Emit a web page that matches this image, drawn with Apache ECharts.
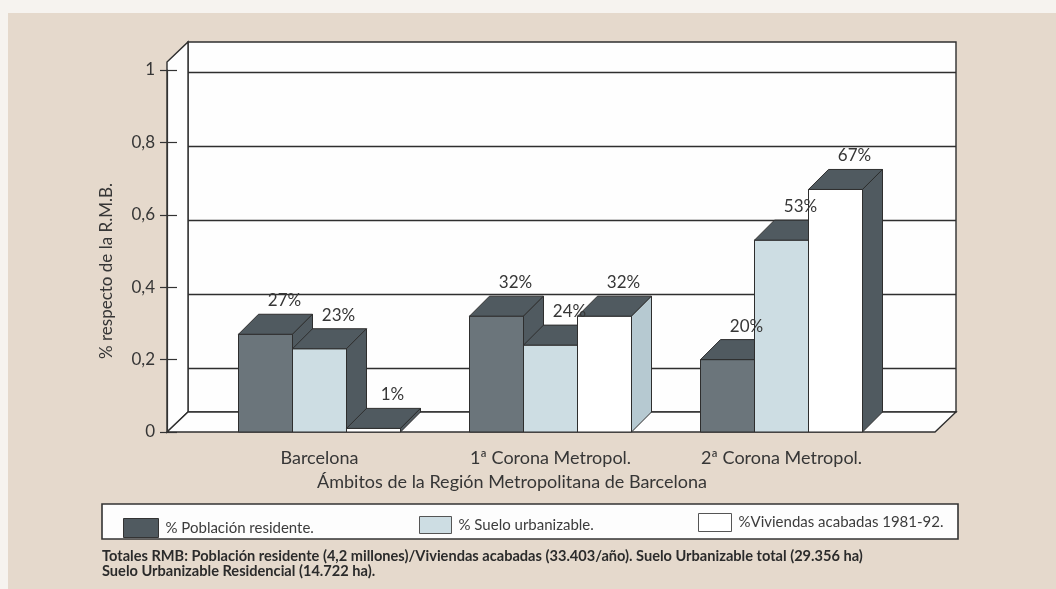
<!DOCTYPE html>
<html>
<head>
<meta charset="utf-8">
<title>Ámbitos de la Región Metropolitana de Barcelona</title>
<script src="https://cdn.jsdelivr.net/npm/echarts@6/dist/echarts.min.js"></script>
<style>
  html, body { margin: 0; padding: 0; background: #f6f3ef; }
  #chart { width: 1056px; height: 589px; }
</style>
</head>
<body>
<div id="chart"></div>
<script>
// ---- data ----
const categories = ['Barcelona', '1ª Corona Metropol.', '2ª Corona Metropol.'];
const seriesNames = ['% Población residente.', '% Suelo urbanizable.', '%Viviendas acabadas 1981-92.'];
const poblacionPct = [27, 32, 20];
const sueloPct = [23, 24, 53];
const viviendasPct = [1, 32, 67];
const yTickLabels = ['0', '0,2', '0,4', '0,6', '0,8', '1'];
const footnoteLines = [
  'Totales RMB: Población residente (4,2 millones)/Viviendas acabadas (33.403/año). Suelo Urbanizable total (29.356 ha)',
  'Suelo Urbanizable Residencial (14.722 ha).'
];
const yAxisTitle = '% respecto de la R.M.B.';
const xAxisTitle = 'Ámbitos de la Región Metropolitana de Barcelona';

// ---- layout & style ----
const FONT = 'Lato, "Open Sans", sans-serif';
const INK = '#363636';
const DARK = '#6b757b', DARK_SHADE = '#505a60';
const LIGHT = '#cddde3', LIGHT_SHADE = '#b6c9d1';
const WHITE = '#ffffff';
const DEPTH_X = 20, DEPTH_Y = 20;
const FRONT_LEFT = 167, FLOOR_Y = 432, TOP_Y = 70;
const BACK_LEFT = FRONT_LEFT + 21, BACK_RIGHT = 956, BACK_TOP = 42, BACK_FLOOR = 412;
const BAR_LEFT = 204, BAR_RIGHT = 897;
const BAR_FRACTION = 54 / 231;

const seriesStyles = [
  { front: DARK, top: DARK_SHADE, side: () => DARK_SHADE },
  { front: LIGHT, top: DARK_SHADE, side: () => DARK_SHADE },
  { front: WHITE, top: DARK_SHADE, side: (cat) => (cat === 1 ? LIGHT_SHADE : DARK_SHADE) }
];

// geometry of one 3D bar, from the axis scales
function barGeometry(api, slot) {
  const cat = api.value(0);
  const v = api.value(1);
  const base = api.coord([cat, 0]);
  const topPt = api.coord([cat, v]);
  const band = api.size([1, 0])[0];
  const w = band * BAR_FRACTION;
  const x0 = base[0] + (slot - 1.5) * w;
  return { cat, x0, x1: x0 + w, w, y0: base[1], yt: topPt[1] };
}

function makeBarSeries(slot, pctValues) {
  const st = seriesStyles[slot];
  return {
    type: 'custom',
    name: seriesNames[slot],
    coordinateSystem: 'cartesian2d',
    xAxisIndex: 0,
    yAxisIndex: 0,
    z: 2 + slot,
    itemStyle: { color: st.front, borderColor: '#333', borderWidth: 1 },
    data: pctValues.map((p, i) => [i, p / 100, p]),
    encode: { x: 0, y: 1 },
    renderItem: function (params, api) {
      const g = barGeometry(api, slot);
      const dx = DEPTH_X, dy = DEPTH_Y;
      const stroke = { stroke: '#2e2e2e', lineWidth: 1 };
      return {
        type: 'group',
        children: [
          { type: 'rect', shape: { x: g.x0, y: g.yt, width: g.w, height: g.y0 - g.yt },
            style: Object.assign({ fill: st.front }, stroke) },
          { type: 'polygon', shape: { points: [[g.x0, g.yt], [g.x0 + dx, g.yt - dy], [g.x1 + dx, g.yt - dy], [g.x1, g.yt]] },
            style: Object.assign({ fill: st.top }, stroke) },
          { type: 'polygon', shape: { points: [[g.x1, g.yt], [g.x1 + dx, g.yt - dy], [g.x1 + dx, g.y0 - dy], [g.x1, g.y0]] },
            style: Object.assign({ fill: st.side(g.cat) }, stroke) }
        ]
      };
    }
  };
}

// value labels drawn above all bars
function makeLabelSeries(slot, pctValues) {
  return {
    type: 'custom',
    name: seriesNames[slot] + ' (etiquetas)',
    coordinateSystem: 'cartesian2d',
    xAxisIndex: 0,
    yAxisIndex: 0,
    z: 10,
    silent: true,
    data: pctValues.map((p, i) => [i, p / 100, p]),
    encode: { x: 0, y: 1 },
    renderItem: function (params, api) {
      const g = barGeometry(api, slot);
      return {
        type: 'text',
        style: { text: api.value(2) + '%', x: g.x0 + g.w / 2 + DEPTH_X * 0.95, y: g.yt - DEPTH_Y - 5,
                 align: 'center', verticalAlign: 'bottom', font: '17px ' + FONT, fill: INK }
      };
    }
  };
}

const chart = echarts.init(document.getElementById('chart'), null, { renderer: 'canvas' });

const legendBase = {
  orient: 'horizontal', selectedMode: false, icon: 'rect',
  itemGap: 0,
  textStyle: { fontFamily: FONT, fontSize: 15, color: '#3c3c3c', padding: [0, 0, 0, 2] }
};

chart.setOption({
  animation: false,
  backgroundColor: 'transparent',
  grid: [
    // front grid: bars, y axis ticks and category labels
    { left: BAR_LEFT, right: 1056 - BAR_RIGHT, top: TOP_Y, bottom: 589 - FLOOR_Y, containLabel: false },
    // back wall grid lines
    { left: BACK_LEFT, right: 1056 - BACK_RIGHT, top: 72, bottom: 589 - 442, containLabel: false }
  ],
  xAxis: [
    { type: 'category', gridIndex: 0, data: categories, boundaryGap: true,
      axisLine: { show: false }, axisTick: { show: false },
      axisLabel: { margin: 17, fontFamily: FONT, fontSize: 18, color: INK } },
    { type: 'value', gridIndex: 1, show: false, min: 0, max: 1 }
  ],
  yAxis: [
    { type: 'value', gridIndex: 0, min: 0, max: 1, interval: 0.2, position: 'left', offset: BAR_LEFT - FRONT_LEFT,
      axisLine: { show: true, lineStyle: { color: '#333', width: 1.2 } },
      axisTick: { show: true, length: 7, lineStyle: { color: '#333', width: 1.2 } },
      axisLabel: { margin: 12, fontFamily: FONT, fontSize: 17, color: INK,
        formatter: (v) => yTickLabels[Math.round(v / 0.2)] },
      splitLine: { show: false } },
    { type: 'value', gridIndex: 0, min: 0, max: 1, interval: 0.2, position: 'left', offset: BAR_LEFT - FRONT_LEFT,
      axisLine: { show: false },
      axisTick: { show: true, inside: true, length: 10, lineStyle: { color: '#333', width: 1.2 } },
      axisLabel: { show: false }, splitLine: { show: false } },
    { type: 'value', gridIndex: 1, min: 0, max: 1, interval: 0.2,
      axisLine: { show: false }, axisTick: { show: false }, axisLabel: { show: false },
      splitLine: { show: true, showMinLine: false, lineStyle: { color: '#2f2f2f', width: 1.4 } } }
  ],
  legend: [
    Object.assign({}, legendBase, { left: 118, top: 513, itemWidth: 35, itemHeight: 19,
      data: [{ name: seriesNames[0], itemStyle: { color: DARK_SHADE, borderColor: '#333', borderWidth: 1 } }] }),
    Object.assign({}, legendBase, { left: 414, top: 511, itemWidth: 32, itemHeight: 17,
      data: [{ name: seriesNames[1], itemStyle: { color: LIGHT, borderColor: '#555', borderWidth: 1 } }] }),
    Object.assign({}, legendBase, { left: 693, top: 508, itemWidth: 33, itemHeight: 18,
      data: [{ name: seriesNames[2], itemStyle: { color: WHITE, borderColor: '#555', borderWidth: 1 } }] })
  ],
  graphic: [
    // page
    { type: 'rect', z: -20, silent: true, shape: { x: 8, y: 13, width: 1048, height: 576 },
      style: { fill: '#e5d9cc' } },
    // back wall
    { type: 'rect', z: -10, silent: true,
      shape: { x: BACK_LEFT, y: BACK_TOP, width: BACK_RIGHT - BACK_LEFT, height: BACK_FLOOR - BACK_TOP },
      style: { fill: '#fefefe', stroke: '#2f2f2f', lineWidth: 1.4 } },
    // left wall
    { type: 'polygon', z: -10, silent: true,
      shape: { points: [[FRONT_LEFT, BACK_TOP + DEPTH_Y], [BACK_LEFT, BACK_TOP], [BACK_LEFT, BACK_FLOOR], [FRONT_LEFT, FLOOR_Y]] },
      style: { fill: '#fefefe', stroke: '#2f2f2f', lineWidth: 1.4 } },
    // floor
    { type: 'polygon', z: -10, silent: true,
      shape: { points: [[FRONT_LEFT, FLOOR_Y], [BACK_LEFT, BACK_FLOOR], [BACK_RIGHT, BACK_FLOOR], [BACK_RIGHT - 21, FLOOR_Y]] },
      style: { fill: '#fefefe', stroke: '#2f2f2f', lineWidth: 1.4 } },
    // axis titles
    { type: 'text', z: 10, silent: true, x: 107, y: 271, rotation: Math.PI / 2,
      style: { text: yAxisTitle, align: 'center', verticalAlign: 'middle', font: '17px ' + FONT, fill: INK } },
    { type: 'text', z: 10, silent: true, x: 512, y: 482,
      style: { text: xAxisTitle, align: 'center', verticalAlign: 'middle', font: '18px ' + FONT, fill: INK } },
    // legend frame
    { type: 'rect', z: -5, silent: true, shape: { x: 102, y: 504, width: 856, height: 35 },
      style: { fill: '#fdfdfd', stroke: '#333', lineWidth: 1.6 } },
    // footnote
    { type: 'text', z: 10, silent: true, x: 102, y: 556,
      style: { text: footnoteLines[0], align: 'left', verticalAlign: 'middle', font: 'bold 14.6px ' + FONT, fill: '#2b2b2b' } },
    { type: 'text', z: 10, silent: true, x: 102, y: 571,
      style: { text: footnoteLines[1], align: 'left', verticalAlign: 'middle', font: 'bold 14.6px ' + FONT, fill: '#2b2b2b' } }
  ],
  series: [
    makeBarSeries(0, poblacionPct),
    makeBarSeries(1, sueloPct),
    makeBarSeries(2, viviendasPct),
    makeLabelSeries(0, poblacionPct),
    makeLabelSeries(1, sueloPct),
    makeLabelSeries(2, viviendasPct)
  ]
});
</script>
</body>
</html>
